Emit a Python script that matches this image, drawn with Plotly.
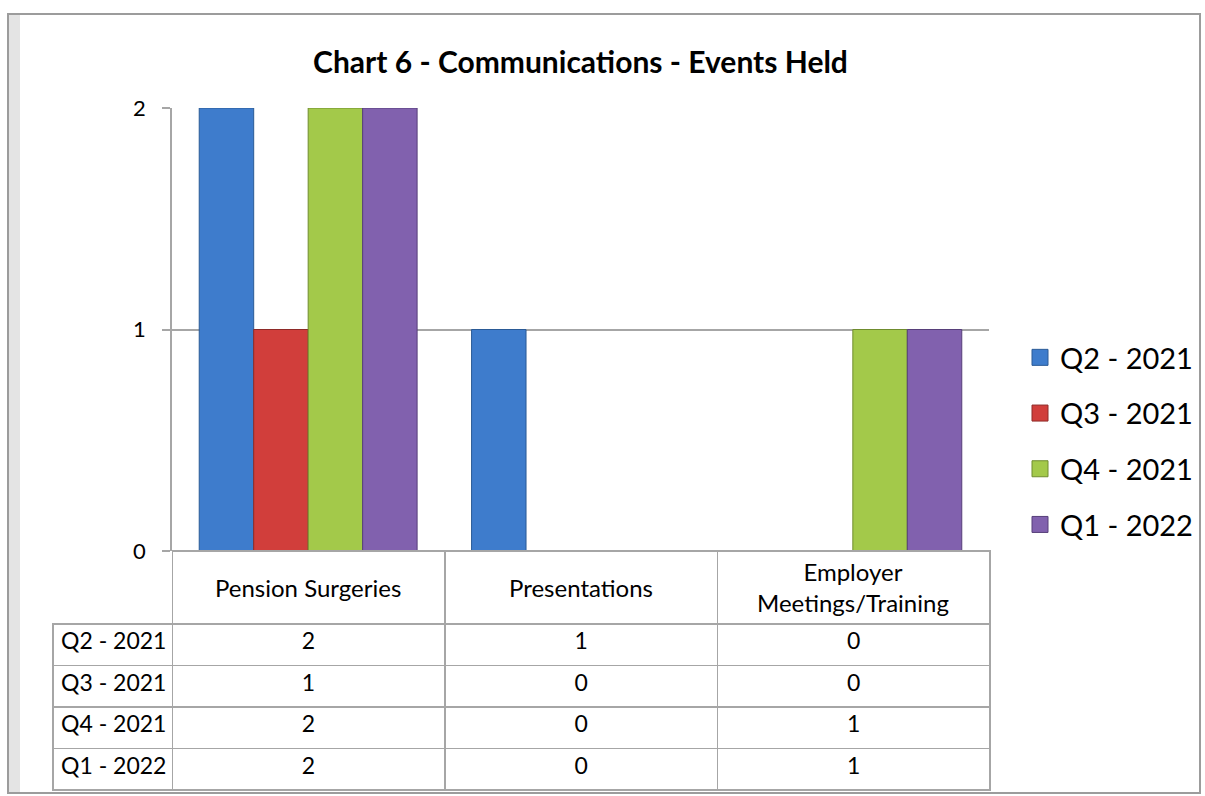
import plotly.graph_objects as go

categories = ["Pension Surgeries", "Presentations", "Employer Meetings/Training"]
header_labels = ["Pension Surgeries", "Presentations", "Employer<br>Meetings/Training"]
series_names = ["Q2 - 2021", "Q3 - 2021", "Q4 - 2021", "Q1 - 2022"]
q2_2021 = [2, 1, 0]
q3_2021 = [1, 0, 0]
q4_2021 = [2, 0, 1]
q1_2022 = [2, 0, 1]
y_ticks = [0, 1, 2]

series_values = [q2_2021, q3_2021, q4_2021, q1_2022]
colors = ["#3E7CCC", "#D13E3B", "#A3C94A", "#8161AE"]
edge_colors = ["#2A5A96", "#8E2A28", "#6F8C2E", "#573F7A"]

FONT = "Lato, Calibri, Carlito, sans-serif"
W, H = 1205, 796
L, R, T, B = 172, 989, 108, 551

def fx(x):
    return x / W
def fy(y):
    return 1 - y / H

fig = go.Figure()
for name, vals, c, ec in zip(series_names, series_values, colors, edge_colors):
    fig.add_trace(go.Bar(
        x=categories, y=vals, name=name, showlegend=False,
        marker=dict(color=c, line=dict(color=ec, width=[1 if v else 0 for v in vals])),
    ))
# legend entries with larger square swatches
for name, c, ec in zip(series_names, colors, edge_colors):
    fig.add_trace(go.Scatter(
        x=[None], y=[None], mode="markers", name=name, legendgroup=name,
        marker=dict(symbol="square", size=18, color=c, line=dict(color=ec, width=1)),
    ))

# data table
gray = "#A6A6A6"
clear = "rgba(0,0,0,0)"
row_labels = [s.replace(" ", "\u00a0") for s in series_names]
table_cols = [row_labels] + [[s[i] for s in series_values] for i in range(len(categories))]
fig.add_trace(go.Table(
    domain=dict(x=[fx(53), fx(990)], y=[fy(793), fy(B)]),
    columnwidth=[119, 272, 272, 272],
    header=dict(
        values=["", "", "", ""],
        height=73,
        fill=dict(color=[clear, "white", "white", "white"]),
        line=dict(color=[clear, gray, gray, gray], width=1.5),
        font=dict(family=FONT, size=23, color="black"),
    ),
    cells=dict(
        values=table_cols,
        height=41.5,
        align=["left", "center", "center", "center"],
        fill=dict(color="white"),
        line=dict(color=gray, width=1.5),
        font=dict(family=FONT, size=23, color="black"),
    ),
))

# category labels in the table header row, placed on the category axis
annotations = [
    dict(x=cat, xref="x", y=fy(587), yref="paper", text=lab, showarrow=False,
         xanchor="center", yanchor="middle", align="center",
         font=dict(family=FONT, size=24, color="black"))
    for cat, lab in zip(categories, header_labels)
]

fig.update_layout(
    width=W, height=H,
    margin=dict(l=0, r=0, t=0, b=0, autoexpand=False),
    paper_bgcolor="white", plot_bgcolor="white",
    font=dict(family=FONT, color="black"),
    barmode="group", bargap=0.2, bargroupgap=0,
    title=dict(text="<b>Chart 6 - Communications - Events Held</b>",
               x=fx((L + R) / 2), xref="paper", xanchor="center",
               y=fy(62), yref="container", yanchor="middle",
               font=dict(family=FONT, size=30, color="black")),
    legend=dict(x=fx(1020), y=fy(441), xanchor="left", yanchor="middle",
                font=dict(family=FONT, size=29, color="black"),
                tracegroupgap=15, bgcolor="rgba(0,0,0,0)"),
    xaxis=dict(domain=[fx(L), fx(R)], showticklabels=False, showline=False,
               showgrid=False, ticks="", automargin=False),
    yaxis=dict(domain=[fy(B), fy(T)], range=[0, 2], tickvals=y_ticks, automargin=False,
               showgrid=True, gridcolor=gray, gridwidth=1.5,
               showline=True, linecolor=gray, linewidth=1.5, ticks="outside", ticklen=8,
               tickcolor=gray, tickwidth=1.5, ticklabelstandoff=12,
               tickfont=dict(family=FONT, size=22, color="black"),
               zeroline=True, zerolinecolor=gray, zerolinewidth=1.5),
    annotations=annotations,
    shapes=[
        dict(type="rect", xref="paper", yref="paper", x0=fx(9), x1=fx(20), y0=fy(792), y1=fy(15),
             fillcolor="#E4E4E4", line=dict(width=0), layer="below"),
        dict(type="rect", xref="paper", yref="paper", x0=fx(8), x1=fx(1200), y0=fy(793), y1=fy(14),
             line=dict(color="#9C9C9C", width=2), fillcolor="rgba(0,0,0,0)"),
    ],
)

fig.write_html("out.html", config={"displayModeBar": False},
               post_script="document.body.style.margin='0';")
